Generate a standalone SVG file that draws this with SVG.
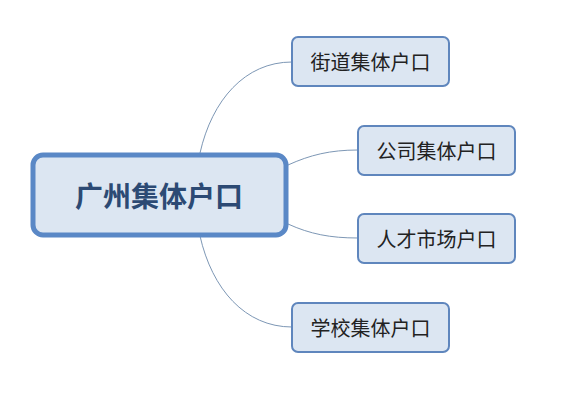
<svg xmlns="http://www.w3.org/2000/svg" width="566" height="404" viewBox="0 0 566 404">
<style>
.conn{fill:none;stroke:#7d97b5;stroke-width:1}
.child rect{fill:#dce6f2;stroke:#5f86bd;stroke-width:2}
.child text{font-family:"Noto Sans CJK SC","Noto Sans",sans-serif;font-size:20px;fill:#222;text-anchor:middle;dominant-baseline:central}
.root rect{fill:#dce6f2;stroke:#5a88c6;stroke-width:5}
.root text{font-family:"Noto Sans CJK SC","Noto Sans",sans-serif;font-size:28px;font-weight:bold;fill:#2c4a74;text-anchor:middle;dominant-baseline:central}
</style>
<rect width="566" height="404" fill="#ffffff"/>
<g id="connectors">
<path class="conn" d="M200 153 C212 100 245 62 292 62"/>
<path class="conn" d="M288 165 C310 155 330 150 358 150"/>
<path class="conn" d="M288 224 C310 234 330 238 358 238"/>
<path class="conn" d="M200 236 C212 289 245 327 292 327"/>
</g>
<g id="root" class="root">
<rect x="33" y="155" width="253" height="80" rx="10"/>
<text x="159" y="195">广州集体户口</text>
</g>
<g id="n1" class="child">
<rect x="292" y="37" width="157" height="49" rx="6"/>
<text x="370.5" y="61.5">街道集体户口</text>
</g>
<g id="n2" class="child">
<rect x="358" y="126" width="157" height="49" rx="6"/>
<text x="436.5" y="150.5">公司集体户口</text>
</g>
<g id="n3" class="child">
<rect x="358" y="214" width="157" height="49" rx="6"/>
<text x="436.5" y="238.5">人才市场户口</text>
</g>
<g id="n4" class="child">
<rect x="292" y="303" width="157" height="49" rx="6"/>
<text x="370.5" y="327.5">学校集体户口</text>
</g>
</svg>
